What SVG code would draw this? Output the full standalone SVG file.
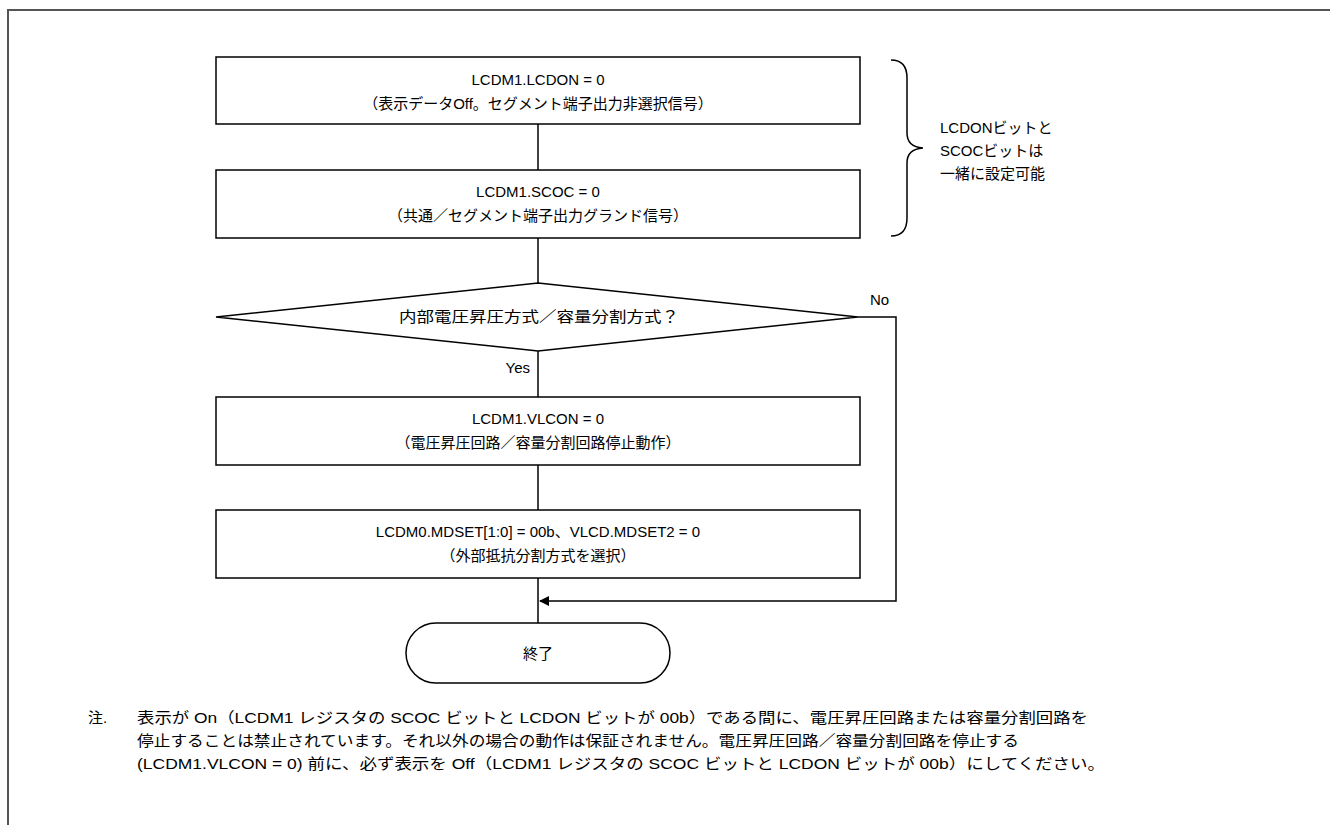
<svg xmlns="http://www.w3.org/2000/svg" width="1330" height="825" viewBox="0 0 1330 825">
<defs>
<style>
.t{font-family:"Liberation Sans","Noto Sans CJK JP",sans-serif;font-size:15px;fill:#000;}
.c{text-anchor:middle;}
.s{fill:#fff;stroke:#000;stroke-width:1.5;}
.ln{fill:none;stroke:#000;stroke-width:1.5;}
</style>
<marker id="arr" markerWidth="10" markerHeight="10" refX="9" refY="5" orient="auto" markerUnits="userSpaceOnUse">
<path d="M0,0 L10,5 L0,10 Z" fill="#000"/>
</marker>
</defs>
<rect width="1330" height="825" fill="#fff"/>
<path d="M8,825 V10 H1330" fill="none" stroke="#555" stroke-width="2"/>
<g id="connectors">
<line class="ln" x1="538" y1="124" x2="538" y2="170"/>
<line class="ln" x1="538" y1="238" x2="538" y2="283"/>
<line class="ln" x1="538" y1="351" x2="538" y2="397"/>
<line class="ln" x1="538" y1="465" x2="538" y2="510"/>
<line class="ln" x1="538" y1="578" x2="538" y2="623"/>
<path class="ln" d="M858,317 H896 V601 H540" marker-end="url(#arr)"/>
<text class="t" x="870" y="305">No</text>
<text class="t" x="530" y="373" text-anchor="end">Yes</text>
</g>
<g id="box1">
<rect class="s" x="216" y="57" width="644" height="67"/>
<text class="t c" x="538" y="85">LCDM1.LCDON = 0</text>
<text class="t c" x="538" y="109">（表示データOff。セグメント端子出力非選択信号）</text>
</g>
<g id="box2">
<rect class="s" x="216" y="170" width="644" height="68"/>
<text class="t c" x="538" y="197">LCDM1.SCOC = 0</text>
<text class="t c" x="538" y="221">（共通／セグメント端子出力グランド信号）</text>
</g>
<g id="decision">
<polygon class="s" points="538,283 858,317 538,351 216,317"/>
<text class="t c" x="539" y="322" font-size="16" textLength="280" lengthAdjust="spacingAndGlyphs">内部電圧昇圧方式／容量分割方式？</text>
</g>
<g id="box3">
<rect class="s" x="216" y="397" width="644" height="68"/>
<text class="t c" x="538" y="424">LCDM1.VLCON = 0</text>
<text class="t c" x="538" y="448">（電圧昇圧回路／容量分割回路停止動作）</text>
</g>
<g id="box4">
<rect class="s" x="216" y="510" width="644" height="68"/>
<text class="t c" x="538" y="537">LCDM0.MDSET[1:0] = 00b、VLCD.MDSET2 = 0</text>
<text class="t c" x="538" y="561">（外部抵抗分割方式を選択）</text>
</g>
<g id="end">
<rect class="s" x="406" y="623" width="264" height="60" rx="30" ry="30"/>
<text class="t c" x="538" y="659">終了</text>
</g>
<g id="brace">
<path class="ln" d="M891,60 Q907,60 907,78 V133 Q907,147 923,148 Q907,149 907,163 V218 Q907,236 891,236"/>
<text class="t" x="940" y="133">LCDONビットと</text>
<text class="t" x="940" y="156">SCOCビットは</text>
<text class="t" x="940" y="179">一緒に設定可能</text>
</g>
<g id="note">
<text class="t" x="88" y="723">注.</text>
<text class="t" x="137" y="723" textLength="951" lengthAdjust="spacingAndGlyphs">表示が On（LCDM1 レジスタの SCOC ビットと LCDON ビットが 00b）である間に、電圧昇圧回路または容量分割回路を</text>
<text class="t" x="137" y="746" textLength="882" lengthAdjust="spacingAndGlyphs">停止することは禁止されています。それ以外の場合の動作は保証されません。電圧昇圧回路／容量分割回路を停止する</text>
<text class="t" x="137" y="769" textLength="968" lengthAdjust="spacingAndGlyphs">(LCDM1.VLCON = 0) 前に、必ず表示を Off（LCDM1 レジスタの SCOC ビットと LCDON ビットが 00b）にしてください。</text>
</g>
</svg>
